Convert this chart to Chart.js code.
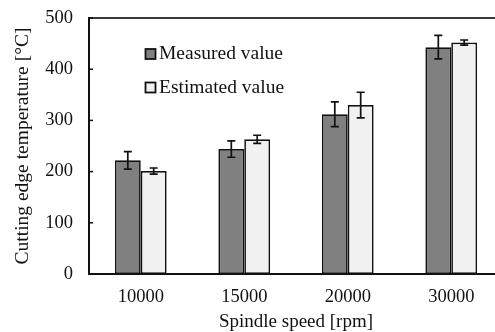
<!DOCTYPE html>
<html>
<head>
<meta charset="utf-8">
<script src="https://cdn.jsdelivr.net/npm/chart.js@4.4.1/dist/chart.umd.min.js"></script>
<style>
  html, body { margin: 0; padding: 0; background: #fff; overflow: hidden; }
  #wrap { width: 510px; height: 332px; }
</style>
</head>
<body>
<div id="wrap"><canvas id="grafico" width="510" height="332"></canvas></div>
<script>
// dados
const categories = ['10000', '15000', '20000', '30000'];
const measured = [222, 244, 312, 443];
const measuredErr = [17, 16, 24, 23];
const estimated = [201, 263, 330, 452];
const estimatedErr = [6, 8, 25, 5];
const seriesNames = ['Measured value', 'Estimated value'];
const yTicks = [0, 100, 200, 300, 400, 500];

const errors = [measuredErr, estimatedErr];
const fillColors = ['#808080', '#f1f1f1'];
const serif = '"Liberation Serif", "Times New Roman", serif';
const ink = '#111';

// error bars, top frame, inner ticks and legend
const extras = {
    id: 'extras',
    afterDatasetsDraw(chart) {
        const ctx = chart.ctx;
        const y = chart.scales.y;
        ctx.save();
        ctx.strokeStyle = '#111';
        ctx.lineWidth = 1.7;
        chart.data.datasets.forEach((ds, d) => {
            chart.getDatasetMeta(d).data.forEach((bar, i) => {
                const top = y.getPixelForValue(ds.data[i] + errors[d][i]);
                const bot = y.getPixelForValue(ds.data[i] - errors[d][i]);
                ctx.beginPath();
                ctx.moveTo(bar.x, top); ctx.lineTo(bar.x, bot);
                ctx.moveTo(bar.x - 4, top); ctx.lineTo(bar.x + 4, top);
                ctx.moveTo(bar.x - 4, bot); ctx.lineTo(bar.x + 4, bot);
                ctx.stroke();
            });
        });
        ctx.restore();
    },
    afterDraw(chart) {
        const ctx = chart.ctx;
        const a = chart.chartArea;
        const y = chart.scales.y;
        ctx.save();
        ctx.strokeStyle = '#3a3a3a';
        ctx.lineWidth = 2;
        ctx.beginPath();
        ctx.moveTo(a.left, a.top); ctx.lineTo(a.right, a.top); ctx.lineTo(a.right, a.bottom);
        ctx.stroke();

        ctx.strokeStyle = ink;
        ctx.lineWidth = 1.5;
        yTicks.forEach(v => {
            const p = y.getPixelForValue(v);
            ctx.beginPath();
            ctx.moveTo(a.left, p); ctx.lineTo(a.left + 4, p);
            ctx.stroke();
        });

        ctx.font = '19.5px ' + serif;
        ctx.textBaseline = 'middle';
        ctx.textAlign = 'left';
        seriesNames.forEach((name, d) => {
            const lx = a.left + 56.5;
            const ly = a.top + 36 + d * 33.5;
            ctx.fillStyle = fillColors[d];
            ctx.fillRect(lx, ly - 5, 10, 10);
            ctx.strokeStyle = '#111';
            ctx.lineWidth = 1.8;
            ctx.strokeRect(lx, ly - 5, 10, 10);
            ctx.fillStyle = ink;
            ctx.fillText(name, lx + 13.5, ly);
        });
        ctx.restore();
    }
};

const ctx1 = document.getElementById('grafico').getContext('2d');
new Chart(ctx1, {
    type: 'bar',
    data: {
        labels: categories,
        datasets: [{
            label: seriesNames[0],
            data: measured,
            backgroundColor: fillColors[0],
        }, {
            label: seriesNames[1],
            data: estimated,
            backgroundColor: fillColors[1],
        }]
    },
    options: {
        responsive: false,
        animation: false,
        devicePixelRatio: 1,
        layout: { padding: { top: 18, right: 7, left: 0, bottom: 0 } },
        datasets: {
            bar: {
                barPercentage: 1,
                categoryPercentage: 0.5,
                borderColor: '#111',
                borderWidth: 1.7,
                borderSkipped: false
            }
        },
        scales: {
            x: {
                grid: { display: false, drawTicks: false },
                border: { color: '#111', width: 2 },
                ticks: { font: { family: serif, size: 18.5 }, color: ink, padding: 12.5 },
                title: {
                    display: true,
                    text: 'Spindle speed [rpm]',
                    font: { family: serif, size: 19, lineHeight: 1 },
                    color: ink,
                    padding: { top: 0, bottom: 0 }
                },
                afterFit: s => { s.height = 58; }
            },
            y: {
                min: 0,
                max: 500,
                grid: { display: false, drawTicks: false },
                border: { color: '#111', width: 2 },
                ticks: { stepSize: 100, font: { family: serif, size: 18.5 }, color: ink, padding: 16 },
                title: {
                    display: true,
                    text: 'Cutting edge temperature [°C]',
                    font: { family: serif, size: 19.5 },
                    color: ink,
                    padding: { top: 11, bottom: 0 }
                },
                afterFit: s => { s.width = 89; s.paddingTop = 0; s.paddingBottom = 0; }
            }
        },
        plugins: {
            legend: { display: false },
            tooltip: { enabled: false }
        }
    },
    plugins: [extras]
});
</script>
</body>
</html>
